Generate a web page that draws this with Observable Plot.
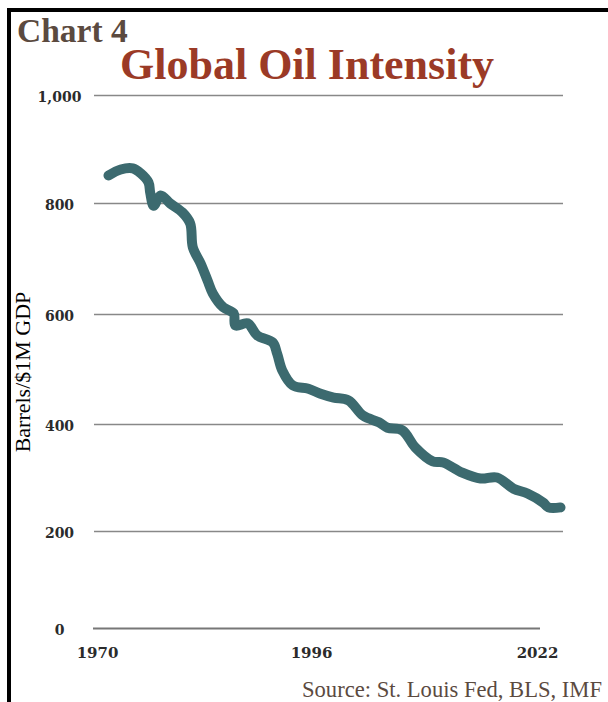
<!DOCTYPE html>
<html>
<head>
<meta charset="utf-8">
<script src="https://cdn.jsdelivr.net/npm/d3@7"></script>
<script src="https://cdn.jsdelivr.net/npm/@observablehq/plot@0.6"></script>
<style>
  html, body { margin: 0; padding: 0; background: #fff; }
  #wrap { position: relative; width: 608px; height: 702px; overflow: hidden; background: #fff; }
  .frame { position: absolute; left: 7px; top: 8px; right: -10px; bottom: -10px;
           border-top: 4px solid #000; border-left: 4px solid #000; }
  .txt { position: absolute; white-space: nowrap; line-height: 1; font-family: "Liberation Serif", serif; }
  #chart { position: absolute; left: 0; top: 0; }
</style>
</head>
<body>
<div id="wrap">
  <div class="frame"></div>
  <div id="chart"></div>
  <div class="txt" id="kicker" style="left:17px; top:14px; font-size:33.5px; font-weight:bold; color:#5b4a3f;">Chart 4</div>
  <div class="txt" id="title" style="left:120px; top:43px; font-size:44px; font-weight:bold; color:#9b3a26;">Global Oil Intensity</div>
  <div class="txt" id="ylab" style="left:23px; top:372px; font-size:22px; color:#000; transform: translate(-50%,-50%) rotate(-90deg);">Barrels/$1M GDP</div>
  <div class="txt" id="source" style="left:302px; top:679px; font-size:22.6px; color:#5b4a3f;">Source: St. Louis Fed, BLS, IMF</div>
</div>
<script>
// Data (barrels per $1M of GDP)
const years = [1970.0, 1971.4, 1972.8, 1973.7, 1974.6, 1974.8, 1975.2, 1976.0, 1977.1, 1978.5,
               1979.4, 1979.7, 1980.6, 1981.4, 1982.0, 1983.2, 1984.4, 1984.6, 1986.0, 1987.1,
               1988.9, 1989.4, 1990.0, 1991.2, 1993.0, 1994.4, 1995.9, 1997.6, 1999.3, 2001.1,
               2002.1, 2003.8, 2005.3, 2007.3, 2008.5, 2010.7, 2012.8, 2014.7, 2016.6, 2018.2,
               2020.0, 2020.6, 2022.0];
const values = [852, 863, 865, 856, 839, 820, 796, 815, 800, 784,
                764, 721, 692, 661, 638, 613, 602, 580, 584, 562,
                549, 529, 498, 471, 465, 456, 449, 444, 416, 404,
                394, 389, 357, 331, 329, 310, 299, 301, 280, 271,
                254, 245, 245];
const yTicks = [0, 200, 400, 600, 800, 1000];
const yGrid = [200, 400, 600, 800, 1000];
const xTickFirst = [1970];
const xTicksRest = [1996, 2022];

const data = years.map((yr, i) => ({year: yr, value: values[i]}));

const plot = Plot.plot({
  width: 608,
  height: 702,
  marginLeft: 94,
  marginRight: 45,
  marginTop: 95,
  marginBottom: 74,
  style: {background: "transparent", overflow: "visible"},
  x: {type: "linear", domain: [1970, 2022], insetLeft: 14, insetRight: 3, axis: null},
  y: {type: "linear", domain: yTicks, range: [628, 531, 424, 314, 203, 95], axis: null},
  marks: [
    Plot.ruleY(yGrid, {stroke: "#888", strokeWidth: 1.6}),
    Plot.ruleY([0], {stroke: "#777", strokeWidth: 2, insetRight: 23, insetLeft: -1}),
    Plot.text(yTicks, {
      y: d => d, text: d => d3.format(",")(d), frameAnchor: "left", dx: -35, dy: 2,
      textAnchor: "middle", fontFamily: "DejaVu Serif", fontWeight: "bold", fontSize: 14, fill: "#2b2b2b"
    }),
    Plot.text(xTickFirst, {
      x: d => d, text: d => String(d), frameAnchor: "bottom", dx: -11, dy: 29,
      fontFamily: "DejaVu Serif", fontWeight: "bold", fontSize: 15, fill: "#2b2b2b"
    }),
    Plot.text(xTicksRest, {
      x: d => d, text: d => String(d), frameAnchor: "bottom", dx: -23, dy: 29,
      fontFamily: "DejaVu Serif", fontWeight: "bold", fontSize: 15, fill: "#2b2b2b"
    }),
    Plot.line(data, {
      x: "year", y: "value", stroke: "#3c6a6f", strokeWidth: 10,
      strokeLinecap: "round", strokeLinejoin: "round", curve: "catmull-rom"
    })
  ]
});
document.getElementById("chart").appendChild(plot);
</script>
</body>
</html>
